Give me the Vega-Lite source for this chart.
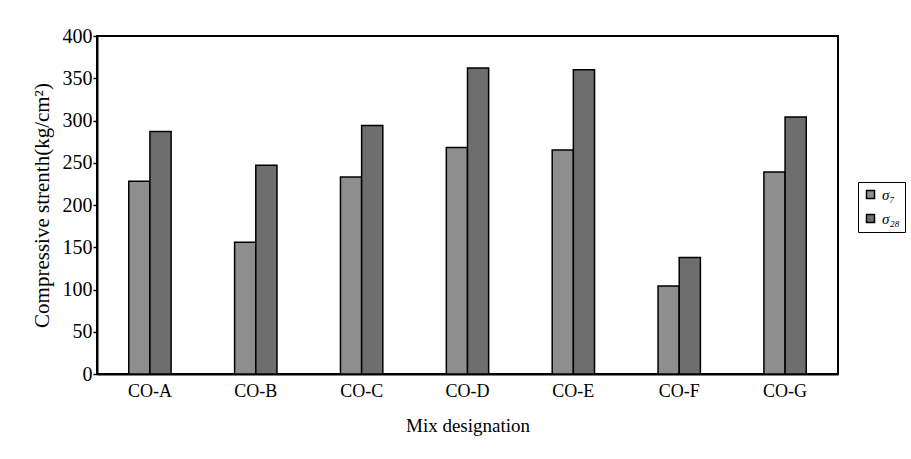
{
  "$schema": "https://vega.github.io/schema/vega-lite/v6.json",
  "width": 741,
  "height": 338,
  "autosize": "none",
  "padding": {"left": 97, "top": 36, "right": 73, "bottom": 85},
  "background": "white",
  "config": {
    "view": {"stroke": "black", "strokeWidth": 2},
    "font": "Liberation Serif"
  },
  "data": {
    "values": [
      {"mix": "CO-A", "series": "σ₇", "strength": 228},
      {"mix": "CO-A", "series": "σ₂₈", "strength": 287},
      {"mix": "CO-B", "series": "σ₇", "strength": 156},
      {"mix": "CO-B", "series": "σ₂₈", "strength": 247},
      {"mix": "CO-C", "series": "σ₇", "strength": 233},
      {"mix": "CO-C", "series": "σ₂₈", "strength": 294},
      {"mix": "CO-D", "series": "σ₇", "strength": 268},
      {"mix": "CO-D", "series": "σ₂₈", "strength": 362},
      {"mix": "CO-E", "series": "σ₇", "strength": 265},
      {"mix": "CO-E", "series": "σ₂₈", "strength": 360},
      {"mix": "CO-F", "series": "σ₇", "strength": 104},
      {"mix": "CO-F", "series": "σ₂₈", "strength": 138},
      {"mix": "CO-G", "series": "σ₇", "strength": 239},
      {"mix": "CO-G", "series": "σ₂₈", "strength": 304}
    ]
  },
  "mark": {"type": "bar", "stroke": "black", "strokeWidth": 1.5},
  "encoding": {
    "x": {
      "field": "mix",
      "type": "nominal",
      "sort": null,
      "scale": {"paddingInner": 0.6, "paddingOuter": 0.3},
      "axis": {
        "title": "Mix designation",
        "labelAngle": 0,
        "ticks": false,
        "domainColor": "black",
        "domainWidth": 2,
        "labelFontSize": 18,
        "labelColor": "black",
        "labelPadding": 8,
        "titleFontSize": 19,
        "titleFontWeight": "normal",
        "titleColor": "black",
        "titlePadding": 16
      }
    },
    "xOffset": {"field": "series", "sort": ["σ₇", "σ₂₈"]},
    "y": {
      "field": "strength",
      "type": "quantitative",
      "scale": {"domain": [0, 400]},
      "axis": {
        "title": "Compressive strenth(kg/cm²)",
        "values": [0, 50, 100, 150, 200, 250, 300, 350, 400],
        "grid": false,
        "tickColor": "black",
        "tickSize": 4,
        "tickWidth": 1.5,
        "domainColor": "black",
        "domainWidth": 2,
        "labelFontSize": 20,
        "labelColor": "black",
        "labelPadding": 1,
        "titleFontSize": 21,
        "titleFontWeight": "normal",
        "titleColor": "black",
        "titlePadding": 10
      }
    },
    "fill": {
      "field": "series",
      "type": "nominal",
      "sort": ["σ₇", "σ₂₈"],
      "scale": {"domain": ["σ₇", "σ₂₈"], "range": ["#8e8e8e", "#6e6e6e"]},
      "legend": {
        "title": null,
        "orient": "none",
        "legendX": 761,
        "legendY": 146,
        "strokeColor": "black",
        "padding": 5,
        "symbolType": "square",
        "symbolSize": 64,
        "symbolStrokeColor": "black",
        "symbolStrokeWidth": 1.5,
        "labelFontSize": 15,
        "labelFontStyle": "italic",
        "labelColor": "black",
        "labelOffset": 4,
        "rowPadding": 8
      }
    }
  }
}
